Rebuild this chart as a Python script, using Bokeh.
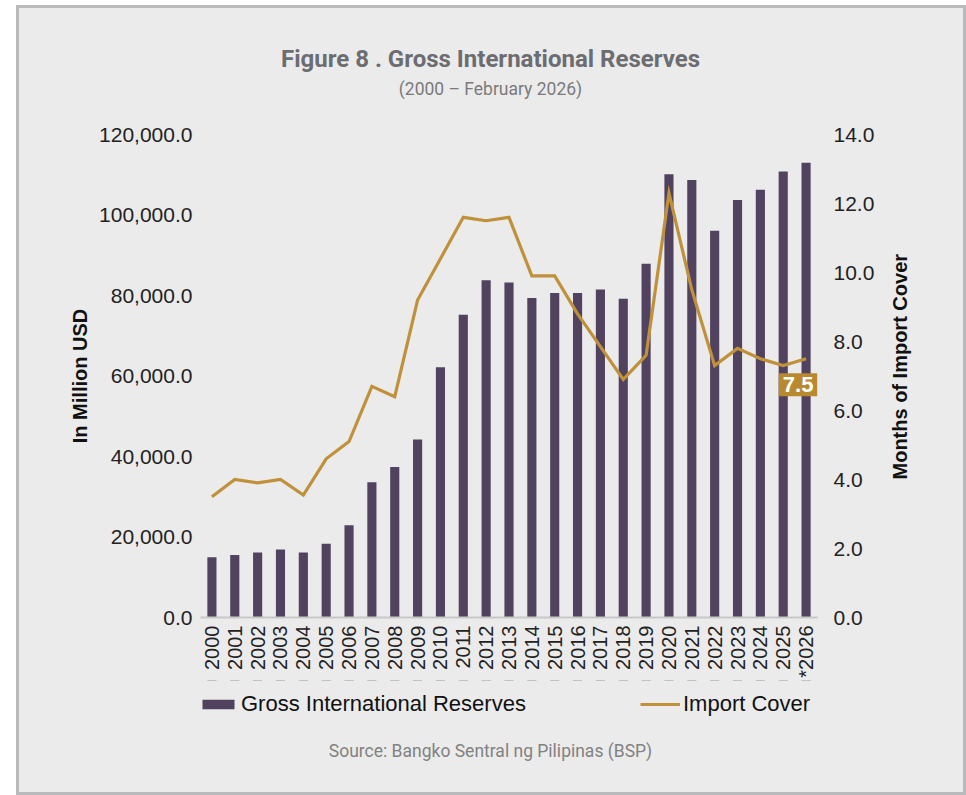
import math
from bokeh.plotting import figure
from bokeh.layouts import column
from bokeh.models import (ColumnDataSource, FactorRange, Range1d, LinearAxis,
                          Legend, LegendItem, Label, NumeralTickFormatter,
                          FixedTicker)
from bokeh.embed import file_html
from bokeh.resources import INLINE

# ---------------- data ----------------
years = ["2000", "2001", "2002", "2003", "2004", "2005", "2006", "2007", "2008",
         "2009", "2010", "2011", "2012", "2013", "2014", "2015", "2016", "2017",
         "2018", "2019", "2020", "2021", "2022", "2023", "2024", "2025", "*2026"]
reserves = [15000, 15550, 16150, 16900, 16150, 18300, 22900, 33600, 37400,
            44200, 62200, 75200, 83800, 83200, 79400, 80600, 80600, 81500,
            79200, 87900, 110100, 108700, 96100, 103700, 106300, 110800, 113000]
import_cover = [3.5, 4.0, 3.9, 4.0, 3.55, 4.6, 5.1, 6.7, 6.4,
                9.2, 10.4, 11.6, 11.5, 11.6, 9.9, 9.9, 8.8, 7.85,
                6.9, 7.6, 12.3, 9.5, 7.3, 7.8, 7.5, 7.3, 7.5]
left_ticks = [0, 20000, 40000, 60000, 80000, 100000, 120000]
right_ticks = [0, 2, 4, 6, 8, 10, 12, 14]

title_text = "Figure 8 . Gross International Reserves"
subtitle_text = "(2000 \u2013 February 2026)"
source_text = "Source: Bangko Sentral ng Pilipinas (BSP)"
left_title = "In Million USD"
right_title = "Months of Import Cover"
bar_name = "Gross International Reserves"
line_name = "Import Cover"

# ---------------- style ----------------
BG = "#ebebeb"
BAR = "#51425f"
GOLD = "#c0913b"
GOLD_BOX = "#b9892f"
HEAD = "Roboto"
SANS = "Liberation Sans"

W = 950                       # panel width (page x 16..966)
HT, HM, HB = 105, 570, 115    # top / main / bottom strip heights
FL, FR, FT, FB = 184, 149, 24, 63
FRAME_W = W - FL - FR
N = len(years)
RIGHT_TITLE_START = 4         # cover value where the rotated right title begins

src = ColumnDataSource(dict(year=years, reserves=reserves, cover=import_cover))

transparent = dict(background_fill_alpha=0, border_fill_alpha=0,
                   outline_line_color=None)


def xpos(page_x):
    """page pixel -> categorical synthetic coordinate (for text placement)"""
    return (page_x - 16 - FL) / FRAME_W * N


def strip(h):
    f = figure(width=W, height=h, x_range=FactorRange(factors=years, range_padding=0),
               y_range=Range1d(-1000 - h, -1000),
               output_backend="svg", toolbar_location=None,
               x_axis_location=None, y_axis_location=None,
               min_border_left=FL, min_border_right=FR,
               min_border_top=0, min_border_bottom=0, **transparent)
    f.grid.visible = False
    return f


def ypos(from_top):
    return -1000 - from_top


# ---------------- top strip: title ----------------
top = strip(HT)
top.add_layout(Label(x=xpos(490), y=ypos(53), text=title_text, text_align="center",
                     text_baseline="middle", text_font=HEAD, text_font_style="bold",
                     text_font_size="24px", text_color="#6b6d70"))
top.add_layout(Label(x=xpos(490), y=ypos(83), text=subtitle_text, text_align="center",
                     text_baseline="middle", text_font=HEAD,
                     text_font_size="17.5px", text_color="#7a7a7a"))

# ---------------- main chart ----------------
p = figure(width=W, height=HM,
           x_range=FactorRange(factors=years, range_padding=0),
           y_range=Range1d(0, left_ticks[-1]),
           output_backend="svg", toolbar_location=None,
           min_border_left=FL, min_border_right=FR,
           min_border_top=FT, min_border_bottom=FB, **transparent)
p.extra_y_ranges = {"cover": Range1d(0, right_ticks[-1])}

bars = p.vbar(x="year", top="reserves", width=0.4, source=src,
              fill_color=BAR, line_color=None)
line = p.line(x="year", y="cover", y_range_name="cover", source=src,
              line_color=GOLD, line_width=3.2, line_join="miter")
p.xgrid.visible = False
p.ygrid.visible = False


def style_axis(ax, size, standoff):
    ax.major_label_text_font = SANS
    ax.major_label_text_font_size = size
    ax.major_label_text_color = "#222222"
    ax.major_tick_line_color = None
    ax.minor_tick_line_color = None
    ax.major_tick_out = 0
    ax.major_tick_in = 0
    ax.minor_tick_out = 0
    ax.minor_tick_in = 0
    ax.major_label_standoff = standoff
    ax.axis_line_color = None
    ax.axis_label_text_font = SANS
    ax.axis_label_text_font_style = "bold"
    ax.axis_label_text_font_size = "20px"
    ax.axis_label_text_color = "#111111"


ya = p.yaxis[0]
ya.ticker = FixedTicker(ticks=left_ticks)
ya.formatter = NumeralTickFormatter(format="0,0.0")
style_axis(ya, "21px", 8)
ya.axis_label = left_title
ya.axis_label_standoff = 5

ra = LinearAxis(y_range_name="cover", ticker=FixedTicker(ticks=right_ticks),
                formatter=NumeralTickFormatter(format="0.0"))
style_axis(ra, "21px", 16)
p.add_layout(ra, "right")

# right-hand title, reading bottom-to-top, carried by an outer right axis
rt = LinearAxis(y_range_name="cover", ticker=FixedTicker(ticks=[RIGHT_TITLE_START]),
                major_label_overrides={RIGHT_TITLE_START: right_title})
style_axis(rt, "20px", 22)
rt.major_label_text_font_style = "bold"
rt.major_label_text_color = "#111111"
rt.major_label_orientation = math.pi / 2
p.add_layout(rt, "right")

xa = p.xaxis[0]
style_axis(xa, "20px", 8)
xa.major_label_orientation = math.pi / 2
xa.axis_line_color = "#c8c8c8"
xa.axis_line_width = 2

p.add_layout(Label(x=N - 0.5, y=import_cover[-1], y_range_name="cover",
                   x_offset=-8, y_offset=-26, text=f"{import_cover[-1]:.1f}",
                   text_align="center", text_baseline="middle", text_font=SANS,
                   text_font_style="bold", text_font_size="22px",
                   text_color="white", background_fill_color=GOLD_BOX, padding=4))

# ---------------- bottom strip: legend + source ----------------
bot = strip(HB)
# same series drawn out of this strip's view, only used as legend keys
key_bar = bot.vbar(x="year", top="reserves", width=0.4, source=src,
                   fill_color=BAR, line_color=None)
key_line = bot.line(x="year", y="cover", source=src, line_color=GOLD, line_width=3.2)
common = dict(orientation="horizontal", glyph_width=40, glyph_height=12,
              label_standoff=3, label_text_font=SANS, label_text_font_size="22px",
              label_text_color="#111111", background_fill_alpha=0,
              border_line_color=None, padding=0, margin=0, spacing=0)
bot.add_layout(Legend(items=[LegendItem(label=bar_name, renderers=[key_bar])],
                      location=(-2, 78), **common))
bot.add_layout(Legend(items=[LegendItem(label=line_name, renderers=[key_line])],
                      location=(440, 78), **common))
bot.add_layout(Label(x=xpos(490), y=ypos(70), text=source_text, text_align="center",
                     text_baseline="middle", text_font=HEAD,
                     text_font_size="17.5px", text_color="#828282"))

layout = column(top, p, bot, spacing=0)
layout.styles = {"margin-left": "16px", "margin-top": "5px",
                 "background-color": BG,
                 "outline": "3px solid #b8babc", "outline-offset": "-3px"}

open("out.html", "w").write(file_html(layout, INLINE))
